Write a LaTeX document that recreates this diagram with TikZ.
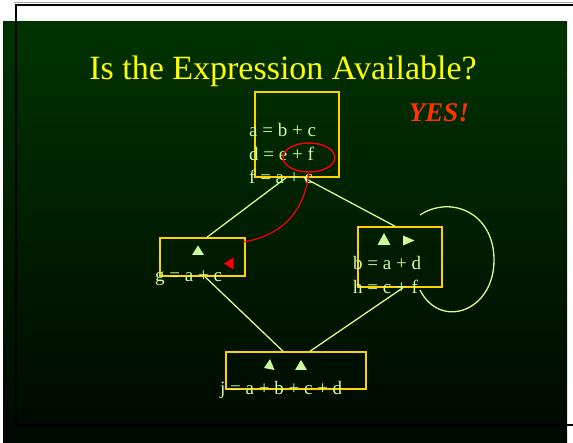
\documentclass[tikz,border=0pt]{standalone}
\usepackage{fontspec}
\setmainfont{Liberation Serif}
\usetikzlibrary{shapes.geometric,calc}
\definecolor{panelTop}{RGB}{0,51,0}
\definecolor{panelMid}{RGB}{0,40,0}
\definecolor{panelBot}{RGB}{0,8,0}
\definecolor{boxYellow}{RGB}{255,210,0}
\definecolor{codeGreen}{RGB}{204,255,153}
\definecolor{edgeGreen}{RGB}{210,255,140}
\definecolor{titleYellow}{RGB}{255,255,0}
\definecolor{yesRed}{RGB}{255,51,0}
\tikzset{
  block/.style={draw=boxYellow, line width=1.5pt, inner sep=0pt},
  code/.style={anchor=base west, inner sep=0pt, text=codeGreen,
    font=\fontsize{19}{23}\selectfont},
  flow/.style={draw=edgeGreen, line width=1.3pt},
  marker/.style={fill=codeGreen, draw=none},
  hint/.style={draw=red, line width=1.4pt},
}
\begin{document}
\begin{tikzpicture}[x=1pt,y=-1pt]
\useasboundingbox (0,0) rectangle (573,443);
% page and slide panel
\fill[white] (0,0) rectangle (573,443);
\shade[top color=panelTop, middle color=panelMid, bottom color=panelBot]
  (3,22) rectangle (567,443);
% frame lines
\draw[black!35, line width=1pt] (14,3) -- (573,3);
\draw[black, line width=2.6pt] (16,425) -- (16,5) -- (573,5);
\draw[black, line width=2pt] (16,425) -- (573,425);

% title
\node[anchor=base, inner sep=0pt, text=titleYellow,
  font=\fontsize{34}{40}\selectfont] (title) at (283,80)
  {Is the Expression Available?};
\node[anchor=base, inner sep=0pt, text=yesRed,
  font=\fontsize{27}{32}\selectfont\bfseries\itshape] (yes) at (439,122) {YES!};

% basic blocks
\node[block, minimum width=84pt, minimum height=85pt] (top) at (297,134.5) {};
\node[block, minimum width=85pt, minimum height=38pt] (left) at (202.5,257) {};
\node[block, minimum width=84pt, minimum height=60pt] (right) at (400,257) {};
\node[block, minimum width=140pt, minimum height=37pt] (bottom) at (296,370.5) {};

% statements
\node[code] (s1) at (249,137) {a = b + c};
\node[code] (s2) at (249,161) {d = e + f};
\node[code] (s3) at (249,184) {f = a + c};
\node[code] (s4) at (155,282) {g = a + c};
\node[code] (s5) at (353,270) {b = a + d};
\node[code] (s6) at (353,294) {h = c + f};
\node[code] (s7) at (220,395) {j = a + b + c + d};

% control-flow edges
\draw[flow] ($(top.south)+(-11,0)$) -- ($(left.north)+(4.5,0)$);
\draw[flow] ($(top.south)+(7,0)$) -- ($(right.north)+(-5,0)$);
\draw[flow] ($(left.south)+(2.5,0)$) -- ($(bottom.north)+(-13,0)$);
\draw[flow] ($(right.south)+(3,0)$) -- ($(bottom.north)+(14,0)$);
% loop on the right block
\coordinate (loopout) at (420,215);
\coordinate (loopin) at (420,290);
\draw[flow] (loopout) .. controls (450,195) and (494,212) .. (494,260)
  .. controls (494,312) and (440,330) .. (loopin);

% entry markers
\fill[marker] (192,255) -- (198,245.5) -- (204,255) -- cycle;
\fill[marker] (377.5,245) -- (384,233) -- (390.5,245) -- cycle;
\fill[marker] (403,235.5) -- (414.5,240.5) -- (403,245.5) -- cycle;
\fill[marker] (264,368) -- (270,359) -- (274.5,370) -- cycle;
\fill[marker] (295,370) -- (301,360) -- (307,370) -- cycle;

% highlighted expression and its path
\node[hint, ellipse, minimum width=52pt, minimum height=29pt, inner sep=0pt]
  (expr) at (309,157.5) {};
\coordinate (hintend) at (243,242);
\draw[hint, line width=1.2pt] (expr.south) .. controls (304,214) and (280,236) .. (hintend);
\fill[red] (224,263.5) -- (233.5,257.5) -- (233.5,269.5) -- cycle;
\end{tikzpicture}
\end{document}
